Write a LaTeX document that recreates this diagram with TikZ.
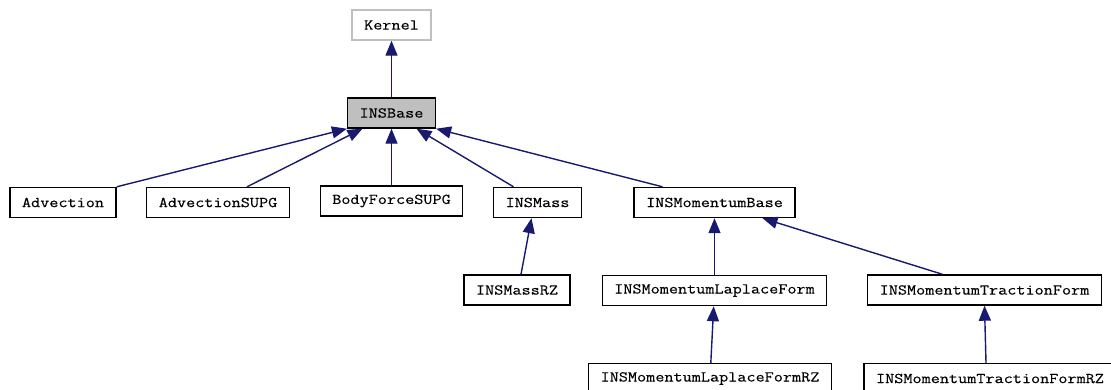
\documentclass[tikz,border=0pt]{standalone}
\usepackage{fontspec}
\usepackage{tikz}
\usetikzlibrary{arrows.meta}
\newfontfamily\classfont[FakeStretch=1.18, FakeBold=0.3]{Latin Modern Mono}
\definecolor{edgeblue}{HTML}{191970}
\definecolor{basegrey}{HTML}{BFBFBF}
\tikzstyle{classbox} = [rectangle, 
draw=black, 
line width=1.4pt,
fill=white,
minimum height=30pt, 
inner xsep=12pt,
text centered, 
font=\classfont\fontsize{15}{18}\selectfont]
\tikzstyle{basebox} = [classbox, fill=basegrey]
\tikzstyle{greybox} = [classbox, draw=basegrey]
\tikzstyle{arrow} = [line width=1.4pt, draw=edgeblue, 
-{Triangle[length=15pt, width=12pt, fill=edgeblue]}]
\begin{document}
\begin{tikzpicture}[x=1pt, y=1pt, node distance=88pt]
		\useasboundingbox (0,0) rectangle (1111,-389);
		\fill [white] (0,0) rectangle (1111,-389);
		\clip (0,0) rectangle (1111,-389);
		
		\node (kernel) [greybox] at (391.5,-25) {Kernel};
		\node (insbase) [basebox, below of=kernel] {INSBase};
		
		% first level of derived kernels
		\node (adv) [classbox] at (63,-202.5) {Advection};
		\node (advsupg) [classbox] at (218,-202.5) {AdvectionSUPG};
		\node (bodyforce) [classbox, below of=insbase] {BodyForceSUPG};
		\node (insmass) [classbox] at (537.5,-202.5) {INSMass};
		\node (mombase) [classbox] at (714.5,-202.5) {INSMomentumBase};
		
		% second level
		\node (massrz) [classbox] at (517,-290) {INSMassRZ};
		\node (laplace) [classbox, below of=mombase] {INSMomentumLaplaceForm};
		\node (traction) [classbox] at (984.5,-290) {INSMomentumTractionForm};
		
		% RZ variants (cut at the bottom edge)
		\node (laplacerz) [classbox] at (710,-378.5) {INSMomentumLaplaceFormRZ};
		\node (tractionrz) [classbox] at (990,-378.5) {INSMomentumTractionFormRZ};
		
		\draw [arrow] (insbase) -- (kernel);
		\draw [arrow] (adv.north east) -- (insbase.south west);
		\draw [arrow] ([xshift=29pt]advsupg.north) -- ([xshift=-29pt]insbase.south);
		\draw [arrow] (bodyforce) -- (insbase);
		\draw [arrow] ([xshift=-24pt]insmass.north) -- ([xshift=25pt]insbase.south);
		\draw [arrow] ([xshift=-52pt]mombase.north) -- (insbase.south east);
		\draw [arrow] ([xshift=4pt]massrz.north) -- ([xshift=-6pt]insmass.south);
		\draw [arrow] (laplace) -- (mombase);
		\draw [arrow] ([xshift=-42pt]traction.north) -- ([xshift=48pt]mombase.south);
		\draw [arrow] (laplacerz) -- (laplace);
		\draw [arrow] ([xshift=-4pt]tractionrz.north) -- (traction.south);
		
	\end{tikzpicture}
\end{document}
